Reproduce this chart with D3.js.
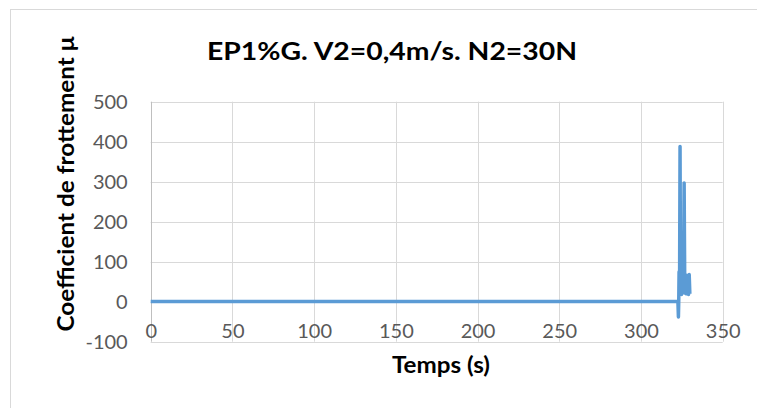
<!DOCTYPE html>
<html><head><meta charset="utf-8">
<script src="https://cdn.jsdelivr.net/npm/d3@7"></script>
<style>
html,body{margin:0;padding:0;background:#fff;}
svg{display:block;}
text{font-family:Lato,"Open Sans",sans-serif;}
</style></head>
<body>
<script>
const title = "EP1%G. V2=0,4m/s. N2=30N";
const xTitle = "Temps (s)";
const yTitle = "Coefficient de frottement μ";
const xTicks = [0,50,100,150,200,250,300,350];
const yTicks = [-100,0,100,200,300,400,500];
const timeValues = [0, 50, 100, 150, 200, 250, 300, 322.6, 322.9, 323.1, 323.3, 323.6, 323.9, 324.2, 324.5, 324.8, 325.1, 325.4, 325.7, 326.0, 326.4, 326.8, 327.1, 327.5, 327.9, 328.3, 328.7, 329.1, 329.5, 329.9];
const frictionValues = [0.5, 0.5, 0.5, 0.5, 0.5, 0.5, 0.5, 0.5, -38, 0, 75, 20, 388, 25, 70, 18, 65, 22, 60, 25, 297, 22, 68, 20, 62, 22, 66, 18, 68, 20];

const W=757,H=408;
const svg=d3.select("body").append("svg").attr("width",W).attr("height",H);
svg.append("rect").attr("x",10.5).attr("y",9.5).attr("width",W).attr("height",H).attr("fill","#fff").attr("stroke","#d9d9d9").attr("stroke-width",1);

const x=d3.scaleLinear().domain([0,350]).range([150.7,722.7]);
const y=d3.scaleLinear().domain([-100,500]).range([341.7,101.7]);

const g=svg.append("g");
// grid
g.append("g").selectAll("line").data(yTicks).join("line")
 .attr("x1",x(0)).attr("x2",x(350)).attr("y1",d=>Math.round(y(d))+0.5).attr("y2",d=>Math.round(y(d))+0.5)
 .attr("stroke","#d9d9d9").attr("stroke-width",1);
g.append("g").selectAll("line").data(xTicks).join("line")
 .attr("y1",y(-100)).attr("y2",y(500)).attr("x1",d=>Math.round(x(d))+0.5).attr("x2",d=>Math.round(x(d))+0.5)
 .attr("stroke",d=>d===0?"#bfbfbf":"#d9d9d9").attr("stroke-width",1);

// axes labels via d3 axes
const yAxis=g.append("g").attr("transform",`translate(${x(0)-23},0)`)
 .call(d3.axisLeft(y).tickValues(yTicks).tickFormat(d=>String(d)).tickSize(0).tickPadding(0));
yAxis.select(".domain").remove();
yAxis.selectAll("text").attr("fill","#595959").style("font-size","20px").attr("dy","0.35em");

const xAxis=g.append("g").attr("transform",`translate(0,${y(-100)})`)
 .call(d3.axisBottom(x).tickValues(xTicks).tickFormat(d=>String(d)).tickSize(0).tickPadding(0));
xAxis.select(".domain").remove();
xAxis.selectAll("text").attr("fill","#595959").style("font-size","20px").attr("dy","-0.2em");

// line
const data=timeValues.map((t,i)=>({t,v:frictionValues[i]}));
g.append("path").datum(data)
 .attr("d",d3.line().x(d=>x(d.t)).y(d=>y(d.v)))
 .attr("fill","none").attr("stroke","#5b9bd5").attr("stroke-width",3.5).attr("stroke-linejoin","round");

// titles
svg.append("text").attr("x",392).attr("y",60).attr("text-anchor","middle")
 .style("font-size","25px").style("font-weight","bold").attr("fill","#000")
 .attr("textLength",370).attr("lengthAdjust","spacingAndGlyphs").text(title);
svg.append("text").attr("x",441).attr("y",373).attr("text-anchor","middle")
 .style("font-size","23px").style("font-weight","bold").attr("fill","#000")
 .attr("textLength",98).attr("lengthAdjust","spacingAndGlyphs").text(xTitle);
svg.append("text").attr("transform","translate(74,184) rotate(-90)").attr("text-anchor","middle")
 .style("font-size","23px").style("font-weight","bold").attr("fill","#000")
 .attr("textLength",295).attr("lengthAdjust","spacingAndGlyphs").text(yTitle);
</script>
</body></html>
